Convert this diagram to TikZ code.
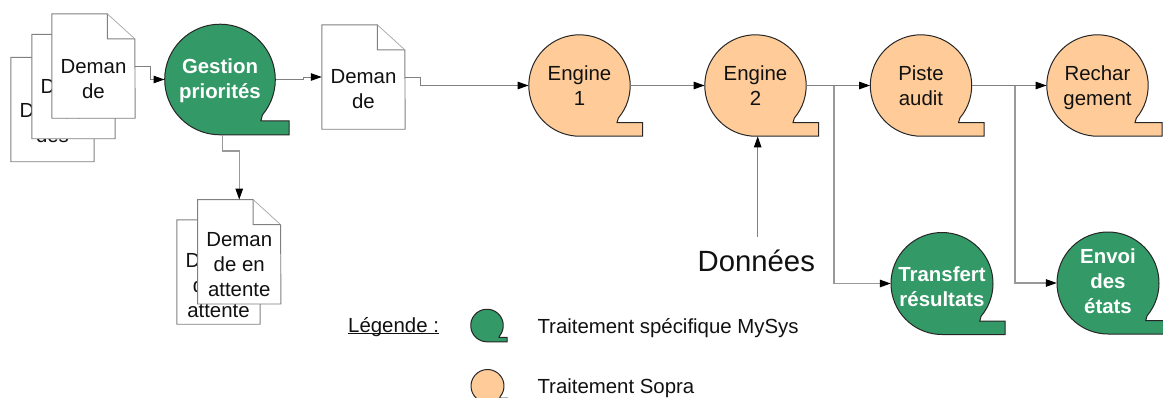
\documentclass[tikz,border=0pt]{standalone}
\usepackage{fontspec}
\setmainfont{Liberation Sans}
\usetikzlibrary{arrows.meta}
\definecolor{tgreen}{HTML}{339966}
\definecolor{torange}{HTML}{FFCC99}
\definecolor{lgray}{HTML}{808080}
\definecolor{inkc}{HTML}{111111}
\newcommand{\tl}[2]{\raisebox{-#1pt}[0pt][0pt]{\begin{tabular}[t]{@{}c@{}}#2\end{tabular}}}
\newcommand{\ulrule}[1]{\setbox0\hbox{#1}\rlap{\rule[-1.7pt]{\wd0}{0.9pt}}#1}
\tikzset{
  docbox/.style={rectangle,fill=white,inner sep=0pt,minimum width=83pt,minimum height=104pt,text=inkc,font=\fontsize{20.4}{25}\selectfont},
  docline/.style={draw=lgray,line width=0.9pt,line join=miter},
  docfold/.style={draw=lgray!70,line width=0.7pt},
  blobline/.style={draw=black!85,line width=1pt,line join=miter},
  blobtext/.style={circle,inner sep=0pt,font=\fontsize{20.4}{25}\selectfont},
  conn/.style={draw=lgray,line width=1pt,-{Triangle[length=11pt,width=7.5pt,color=black]}},
  branch/.style={draw=lgray!80,line width=1.2pt,-{Triangle[length=11pt,width=7.5pt,color=black]}},
  plainlabel/.style={inner sep=0pt,text=inkc,font=\fontsize{20.4}{25}\selectfont},
}
% name, x, y, first baseline offset, lines
\newcommand{\docnode}[5]{%
  \node[docbox] (#1) at (#2,#3) {\tl{#4}{#5}};
  \draw[docline] (#1.north west) -- ++(55.5,0) -- ++(0,25) -- ++(27.5,0) -- (#1.south east) -- (#1.south west) -- cycle;
  \draw[docfold] (#1.north west) ++(55.5,0) -- ++(27.5,25);
}
% name, x, y, radius, tail length, tail height, fill, text colour + font, lines
\newcommand{\blobnode}[9]{%
  \draw[blobline,fill=#7] (#2,#3) ++(40:#4) arc[start angle=40,end angle=-270,radius=#4] -- ++(#5,0) -- ++(0,-#6) -- ++({-(#5-0.74*#4)},0) -- cycle;
  \node[blobtext,minimum size=#4*2pt,#8] (#1) at (#2,#3) {#9};
}
\begin{document}
\begin{tikzpicture}[x=1pt,y=-1pt]
\useasboundingbox (0,0) rectangle (1163,397);
\clip (0,0) rectangle (1163,397);
% documents
\docnode{da}{52.5}{109.5}{7.5}{Deman\\des}
\docnode{db}{73.5}{86.5}{6.5}{Deman\\de}
\docnode{dc}{93.5}{66}{7}{Deman\\de}
\docnode{dm}{363.5}{77}{6}{Deman\\de}
\docnode{dx}{218.5}{272}{-5}{Deman\\de en\\attente}
\docnode{dy}{239.25}{251.75}{-5.75}{Deman\\de en\\attente}
% process shapes
\blobnode{ges}{220}{79.5}{55.3}{69}{14}{tgreen}{text=white}{\bfseries\tl{-6.5}{Gestion\\priorités}}
\blobnode{ea}{579.5}{85.5}{50.7}{63.2}{13.5}{torange}{text=inkc}{\tl{-5.5}{Engine\\1}}
\blobnode{eb}{755.5}{85.5}{50.7}{63}{13.5}{torange}{text=inkc}{\tl{-5.5}{Engine\\2}}
\blobnode{pa}{921}{85.5}{50.7}{63}{13.5}{torange}{text=inkc}{\tl{-5.5}{Piste\\audit}}
\blobnode{re}{1097.5}{85.5}{50.7}{64.5}{13.5}{torange}{text=inkc}{\tl{-5.5}{Rechar\\gement}}
\blobnode{tr}{942}{283.5}{51}{63}{13.5}{tgreen}{text=white}{\bfseries\tl{-2.5}{Transfert\\résultats}}
\blobnode{en}{1108}{283}{51}{63}{13.5}{tgreen}{text=white}{\bfseries\tl{-20}{Envoi\\des\\états}}
% legend
\node[plainlabel,anchor=base west] (leg) at (348,332) {\ulrule{Légende :}};
\blobnode{lga}{487}{325.5}{16.3}{20}{4.5}{tgreen}{text=inkc}{}
\blobnode{lgb}{487.5}{386}{16.5}{20}{4.5}{torange}{text=inkc}{}
\node[plainlabel,anchor=base west] (lta) at (537.3,333) {Traitement spécifique MySys};
\node[plainlabel,anchor=base west] (ltb) at (537.3,393) {Traitement Sopra};
\node[plainlabel,anchor=base,font=\fontsize{29.3}{30}\selectfont] (don) at (756.3,271.5) {Données};
% connectors
\coordinate (ba) at (834,85.5);
\coordinate (bb) at (1015,85.5);
\draw[conn] (dc.east) -- ++(15,0) |- (ges.west);
\draw[conn] (ges.east) -- ++(28,0) |- (dm.west);
\draw[conn] (dm.east) -- ++(15,0) |- (ea.west);
\draw[conn] (ea.east) -- (eb.west);
\draw[conn] (eb.east) -- (pa.west);
\draw[conn] (pa.east) -- (re.west);
\draw[branch] ([xshift=2.5pt]ges.south) -- ++(0,16) -| (dy.north);
\draw[branch] (ba) |- (tr.west);
\draw[branch] (bb) |- (en.west);
\draw[conn] ([xshift=1.4pt,yshift=13pt]don.north) -- ([xshift=2.2pt]eb.south);
\end{tikzpicture}
\end{document}
